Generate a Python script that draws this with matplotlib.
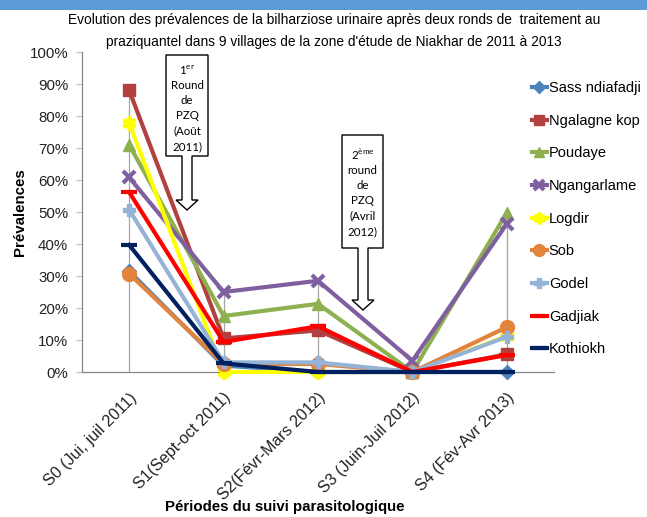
import matplotlib
matplotlib.use('Agg')
import matplotlib.pyplot as plt
from matplotlib.patches import Polygon, Rectangle

plt.rcParams['font.family'] = ['Liberation Sans', 'DejaVu Sans']
plt.rcParams['mathtext.fontset'] = 'custom'
plt.rcParams['mathtext.rm'] = 'Lato'

# Survey periods
periods = ['S0 (Jui, juil 2011)', 'S1(Sept-oct 2011)', 'S2(Févr-Mars 2012)',
           'S3 (Juin-Juil 2012)', 'S4 (Fév-Avr 2013)']

# Prevalence (%) per village
sass_ndiafadji = [31.5, 2.0, 0.0, 0.0, 0.0]
ngalagne_kop = [88.0, 10.5, 13.0, 0.0, 5.5]
poudaye = [71.0, 17.5, 21.3, 0.0, 49.8]
ngangarlame = [60.8, 25.0, 28.5, 3.5, 46.3]
logdir = [77.8, 0.0, 0.0, 0.0, 11.2]
sob = [30.7, 2.5, 2.5, 0.0, 14.0]
godel = [50.7, 3.0, 3.0, 0.0, 11.0]
gadjiak = [56.2, 9.4, 14.3, 0.0, 5.3]
kothiokh = [39.7, 2.7, 0.0, 0.0, 0.0]

villages = ['Sass ndiafadji', 'Ngalagne kop', 'Poudaye', 'Ngangarlame', 'Logdir',
            'Sob', 'Godel', 'Gadjiak', 'Kothiokh']
series = [sass_ndiafadji, ngalagne_kop, poudaye, ngangarlame, logdir,
          sob, godel, gadjiak, kothiokh]
colors = ['#4F81BD', '#B0413E', '#8FB050', '#7F5F9F', '#FFFF00',
          '#E3843D', '#95B3D7', '#FF0000', '#002060']
markers = ['D', 's', '^', 'x', (6, 2, 0), 'o', 'P', '_', '_']
msizes = [7.5, 9, 9, 8, 10, 10, 9, 11, 12]

W, H = 647, 517
fig = plt.figure(figsize=(W / 100, H / 100), dpi=100)


def px(x, y):
    # pixel position (from top-left) to figure fraction
    return (x / W, 1 - y / H)


# blue band across the top
fig.patches.append(Rectangle((0, 1 - 10 / H), 1, 10 / H, transform=fig.transFigure,
                             facecolor='#5B9BD5', edgecolor='none'))

ax = fig.add_axes([82 / W, 1 - 372 / H, (554 - 82) / W, (372 - 52) / H])
x = list(range(len(periods)))

# drop lines from the highest point of each period
tops = [max(s[i] for s in series) for i in x]
ax.vlines(x, 0, [t / 100 for t in tops], colors='#A6A6A6', lw=0.9, zorder=1)

for name, vals, c, m, ms in zip(villages, series, colors, markers, msizes):
    mew = 3 if m in ('x', '_', (6, 2, 0)) else 1
    ax.plot(x, [v / 100 for v in vals], color=c, lw=3, marker=m, markersize=ms,
            markeredgewidth=mew, markeredgecolor=c, markerfacecolor=c,
            label=name, zorder=3, clip_on=False)

ax.set_xlim(-0.5, 4.5)
ax.set_ylim(0, 1)
ax.set_yticks([i / 10 for i in range(11)])
ax.set_yticklabels([f'{i * 10}%' for i in range(11)], fontsize=10.8, color='#222222')
ax.set_xticks(x)
ax.set_xticklabels(periods, rotation=45, ha='right', rotation_mode='anchor',
                   fontsize=11.6, color='#222222')
ax.tick_params(axis='x', length=0, pad=13)
ax.tick_params(axis='y', length=4, color='#BFBFBF', pad=6)
for side in ['top', 'right']:
    ax.spines[side].set_visible(False)
for side in ['left', 'bottom']:
    ax.spines[side].set_color('#868686')
    ax.spines[side].set_linewidth(0.9)
ax.patch.set_alpha(0)

fig.text(*px(20, 212), 'Prévalences', rotation=90, ha='center', va='center',
         fontsize=10.8, fontweight='bold')
fig.text(*px(285, 507), 'Périodes du suivi parasitologique', ha='center', va='center',
         fontsize=10.8, fontweight='bold')
fig.text(*px(334, 31), "Evolution des prévalences de la bilharziose urinaire après deux ronds de  traitement au\n"
         "praziquantel dans 9 villages de la zone d'étude de Niakhar de 2011 à 2013",
         ha='center', va='center', fontsize=9.9, linespacing=1.7)

leg = ax.legend(loc='upper left', bbox_to_anchor=px(532, 81), bbox_transform=fig.transFigure,
                frameon=False, fontsize=10.5, handlelength=1.0, handletextpad=0.15,
                labelspacing=1.28, borderaxespad=0, borderpad=0, markerscale=0.85)
for h in leg.legend_handles:
    h.set_linewidth(3)


# treatment round callouts (box with a down arrow)
def callout(left, right, top, bottom, stem_l, stem_r, head_l, head_r, head_y, tip_y, lines, y0):
    mid = (stem_l + stem_r) / 2
    pts = [(left, top), (right, top), (right, bottom), (stem_r, bottom), (stem_r, head_y),
           (head_r, head_y), (mid, tip_y), (head_l, head_y), (stem_l, head_y),
           (stem_l, bottom), (left, bottom)]
    fig.patches.append(Polygon([px(a, b) for a, b in pts], closed=True,
                               transform=fig.transFigure, facecolor='white',
                               edgecolor='black', lw=1, zorder=5))
    cx = (left + right) / 2
    for i, t in enumerate(lines):
        fig.text(*px(cx, y0 + i * 15.3), t, ha='center', va='center', fontsize=8.3,
                 family=['Lato', 'DejaVu Sans'], zorder=6)


callout(166, 208, 55, 156, 182, 192, 176, 198, 200, 210,
        [r'1$^{\mathrm{er}}$', 'Round', 'de', 'PZQ', '(Août', '2011)'], 70)
callout(342, 383, 135, 248, 358, 368, 352, 374, 300, 310,
        [r'2$^{\mathrm{ème}}$', 'round', 'de', 'PZQ', '(Avril', '2012)'], 155)

fig.savefig('out.png', dpi=100)
